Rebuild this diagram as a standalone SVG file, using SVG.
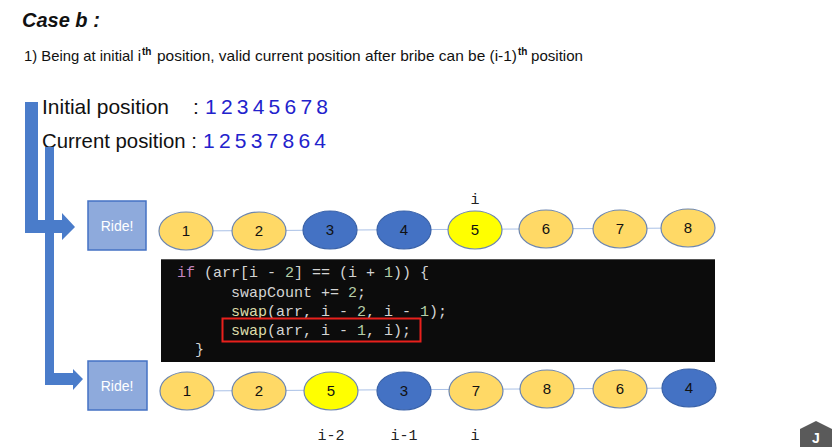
<svg xmlns="http://www.w3.org/2000/svg" width="835" height="447" viewBox="0 0 835 447">
<style>
.sans{font-family:"Liberation Sans","DejaVu Sans",sans-serif}
.mono{font-family:"Liberation Mono","DejaVu Sans Mono",monospace}
.yel{fill:#ffd966;stroke:#6d86b0;stroke-width:1.2}
.blu{fill:#4472c4;stroke:#3a62a8;stroke-width:1.2}
.lem{fill:#ffff00;stroke:#6d86b0;stroke-width:1.2}
.num{font-family:"Liberation Sans","DejaVu Sans",sans-serif;font-size:15px;fill:#111;text-anchor:middle}
.ride{fill:#8eaadc;stroke:#4472c4;stroke-width:1.5}
.ridet{font-family:"Liberation Sans",sans-serif;font-size:14px;fill:#fff;text-anchor:middle}
.link{stroke:#a9c0e6;stroke-width:1}
.arrow{fill:#4a7cca}
.code{font-family:"Liberation Mono","DejaVu Sans Mono",monospace;font-size:15px;fill:#d4d4d4}
.kw{fill:#c586c0}
.fn{fill:#dcdcaa}
.lit{fill:#b5cea8}
.lbl{font-family:"Liberation Mono","DejaVu Sans Mono",monospace;font-size:15px;fill:#222;text-anchor:middle}
.bluenum{fill:#2222cc}
</style>
<rect width="835" height="447" fill="#fff"/>
<text x="22" y="27" class="sans" font-size="20" font-style="italic" font-weight="bold" fill="#111">Case b :</text>
<text y="61" class="sans" font-size="15" fill="#111"><tspan x="24" textLength="117" lengthAdjust="spacingAndGlyphs">1) Being at initial i</tspan><tspan x="142" dy="-6" font-size="10" font-weight="bold">th</tspan><tspan x="157" dy="6" textLength="360" lengthAdjust="spacingAndGlyphs">position, valid current position after bribe can be (i-1)</tspan><tspan x="518" dy="-6" font-size="10" font-weight="bold">th</tspan><tspan x="531" dy="6" textLength="52" lengthAdjust="spacingAndGlyphs">position</tspan></text>
<text x="42" y="114" class="sans" font-size="21" fill="#111" textLength="127" lengthAdjust="spacingAndGlyphs">Initial position</text>
<text x="193" y="114" class="sans" font-size="21" fill="#111">:</text>
<text x="205" y="114" class="sans bluenum" font-size="21" textLength="123" lengthAdjust="spacing">1 2 3 4 5 6 7 8</text>
<text x="42" y="148" class="sans" font-size="21" fill="#111" textLength="155" lengthAdjust="spacingAndGlyphs">Current position :</text>
<text x="203" y="148" class="sans bluenum" font-size="21" textLength="123" lengthAdjust="spacing">1 2 5 3 7 8 6 4</text>
<g id="arrow1"><path class="arrow" d="M25,102 H38 V220 H62 V213 L75,227 L62,240 V233 H25 Z"/></g>
<g id="arrow2"><path class="arrow" d="M45,147 H54 V373 H73 V369 L83,379 L73,390 V385 H45 Z"/></g>
<g id="connectors">
<line class="link" x1="186" y1="231" x2="688" y2="228"/>
<line class="link" x1="187" y1="391" x2="689" y2="388"/>
</g>
<g id="ride1"><rect class="ride" x="88" y="201" width="58" height="49"/><text class="ridet" x="117" y="231">Ride!</text></g>
<g id="ride2"><rect class="ride" x="88" y="361" width="59" height="49"/><text class="ridet" x="117" y="391">Ride!</text></g>
<g id="r1n1"><ellipse class="yel" cx="186" cy="231" rx="27" ry="19"/><text class="num" x="186" y="236">1</text></g>
<g id="r1n2"><ellipse class="yel" cx="259" cy="231" rx="27" ry="19"/><text class="num" x="259" y="236">2</text></g>
<g id="r1n3"><ellipse class="blu" cx="330" cy="230" rx="27" ry="19"/><text class="num" x="330" y="235">3</text></g>
<g id="r1n4"><ellipse class="blu" cx="404" cy="230" rx="27" ry="19"/><text class="num" x="404" y="235">4</text></g>
<g id="r1n5"><ellipse class="lem" cx="475" cy="230" rx="27" ry="19"/><text class="num" x="475" y="235">5</text></g>
<g id="r1n6"><ellipse class="yel" cx="546" cy="229" rx="27" ry="19"/><text class="num" x="546" y="234">6</text></g>
<g id="r1n7"><ellipse class="yel" cx="620" cy="229" rx="27" ry="19"/><text class="num" x="620" y="234">7</text></g>
<g id="r1n8"><ellipse class="yel" cx="688" cy="228" rx="27" ry="19"/><text class="num" x="688" y="233">8</text></g>
<text class="lbl" x="475" y="204">i</text>
<g id="codeblock">
<rect x="161" y="259" width="554" height="103" fill="#0c0c0c"/>
<line x1="161" y1="259.5" x2="715" y2="259.5" stroke="#555" stroke-width="1"/>
<text class="code" x="177" y="277"><tspan class="kw">if</tspan> (arr[i - <tspan class="lit">2</tspan>] == (i + <tspan class="lit">1</tspan>)) {</text>
<text class="code" x="231" y="297">swapCount += <tspan class="lit">2</tspan>;</text>
<text class="code" x="231" y="316"><tspan class="fn">swap</tspan>(arr, i - <tspan class="lit">2</tspan>, i - <tspan class="lit">1</tspan>);</text>
<text class="code" x="231" y="335"><tspan class="fn">swap</tspan>(arr, i - <tspan class="lit">1</tspan>, i);</text>
<text class="code" x="195" y="354">}</text>
<rect x="222.5" y="318.5" width="198" height="23" fill="none" stroke="#e8201c" stroke-width="2"/>
</g>
<g id="r2n1"><ellipse class="yel" cx="187" cy="391" rx="27" ry="19"/><text class="num" x="187" y="396">1</text></g>
<g id="r2n2"><ellipse class="yel" cx="259" cy="391" rx="27" ry="19"/><text class="num" x="259" y="396">2</text></g>
<g id="r2n3"><ellipse class="lem" cx="331" cy="391" rx="27" ry="19"/><text class="num" x="331" y="396">5</text></g>
<g id="r2n4"><ellipse class="blu" cx="404" cy="391" rx="27" ry="19"/><text class="num" x="404" y="396">3</text></g>
<g id="r2n5"><ellipse class="yel" cx="476" cy="391" rx="27" ry="19"/><text class="num" x="476" y="396">7</text></g>
<g id="r2n6"><ellipse class="yel" cx="547" cy="389" rx="27" ry="19"/><text class="num" x="547" y="394">8</text></g>
<g id="r2n7"><ellipse class="yel" cx="620" cy="389" rx="27" ry="19"/><text class="num" x="620" y="394">6</text></g>
<g id="r2n8"><ellipse class="blu" cx="689" cy="388" rx="27" ry="19"/><text class="num" x="689" y="393">4</text></g>
<text class="lbl" x="331" y="440">i-2</text>
<text class="lbl" x="404" y="440">i-1</text>
<text class="lbl" x="475" y="440">i</text>
<g id="logo"><polygon points="816,421 832,429 832,447 800,447 800,429" fill="#5a5a5a"/><text x="816" y="443" class="sans" font-size="14" font-weight="bold" fill="#fff" text-anchor="middle">J</text></g>
</svg>
